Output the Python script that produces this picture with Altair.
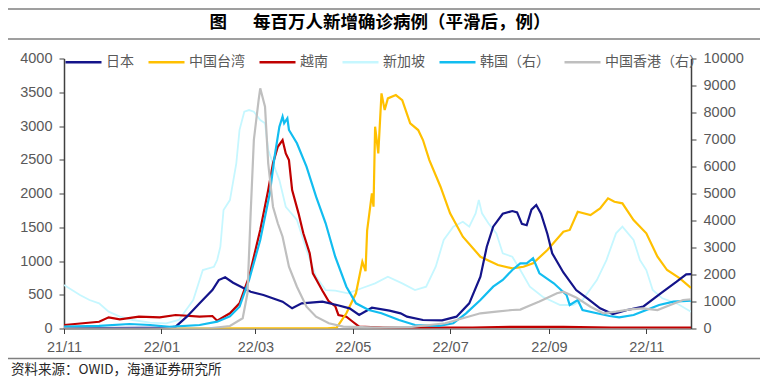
import altair as alt
import pandas as pd

TITLE = "图\u3000\u2002每百万人新增确诊病例（平滑后，例）"
SOURCE = "资料来源：OWID，海通证券研究所"
SERIES = ["日本", "中国台湾", "越南", "新加坡", "韩国（右）", "中国香港（右）"]
COLORS = ["#14148a", "#ffc000", "#c00000", "#c6f7ff", "#12bdf0", "#bfbfbf"]

x_ticks = ["2021-11-01", "2022-01-01", "2022-03-01", "2022-05-01", "2022-07-01", "2022-09-01", "2022-11-01"]
x_domain = ["2021-11-01", "2022-11-29"]
left_ticks = [0, 500, 1000, 1500, 2000, 2500, 3000, 3500, 4000]
right_ticks = [0, 1000, 2000, 3000, 4000, 5000, 6000, 7000, 8000, 9000, 10000]

jp_dates = ["2021-11-01", "2021-11-23", "2021-12-18", "2022-01-06", "2022-01-10", "2022-01-17", "2022-01-25",
            "2022-02-02", "2022-02-06", "2022-02-10", "2022-02-15", "2022-02-26", "2022-03-06", "2022-03-18",
            "2022-03-24", "2022-03-30", "2022-04-12", "2022-04-21", "2022-04-29", "2022-05-05", "2022-05-13",
            "2022-05-24", "2022-05-31", "2022-06-04", "2022-06-14", "2022-06-26", "2022-07-05", "2022-07-13",
            "2022-07-20", "2022-07-24", "2022-07-28", "2022-08-03", "2022-08-09", "2022-08-12", "2022-08-15",
            "2022-08-18", "2022-08-21", "2022-08-24", "2022-08-27", "2022-08-31", "2022-09-03", "2022-09-10",
            "2022-09-18", "2022-09-25", "2022-10-03", "2022-10-11", "2022-10-20", "2022-10-30", "2022-11-10",
            "2022-11-20", "2022-11-26", "2022-11-29"]
jp_vals = [5, 5, 8, 15, 27, 175, 373, 570, 718, 758, 678, 545, 496, 397, 299, 373, 397, 348, 299, 200, 308,
           265, 225, 175, 126, 120, 175, 373, 767, 1211, 1508, 1700, 1740, 1720, 1550, 1530, 1760, 1830, 1700,
           1400, 1114, 830, 570, 447, 299, 215, 274, 323, 521, 693, 803, 805]

tw_dates = ["2021-11-01", "2022-04-15", "2022-04-21", "2022-04-27", "2022-05-03", "2022-05-07", "2022-05-09",
            "2022-05-10", "2022-05-13", "2022-05-14", "2022-05-15", "2022-05-17", "2022-05-19", "2022-05-21",
            "2022-05-23", "2022-05-28", "2022-06-01", "2022-06-06", "2022-06-11", "2022-06-14", "2022-06-18",
            "2022-06-25", "2022-07-01", "2022-07-09", "2022-07-20", "2022-07-31", "2022-08-09", "2022-08-16",
            "2022-08-22", "2022-08-31", "2022-09-10", "2022-09-14", "2022-09-19", "2022-09-27", "2022-10-03",
            "2022-10-08", "2022-10-12", "2022-10-17", "2022-10-24", "2022-11-01", "2022-11-08", "2022-11-14",
            "2022-11-22", "2022-11-29"]
tw_vals = [0, 2, 15, 225, 521, 990, 850, 1450, 2002, 1804, 2989, 2594, 3483, 3236, 3409, 3458, 3384, 3039,
           2940, 2792, 2495, 2100, 1706, 1360, 1063, 940, 892, 915, 966, 1163, 1434, 1460, 1730, 1681, 1780,
           1928, 1878, 1854, 1607, 1410, 1063, 866, 743, 600]

vn_dates = ["2021-11-01", "2021-11-23", "2021-11-29", "2021-12-06", "2021-12-18", "2021-12-31", "2022-01-10",
            "2022-01-25", "2022-02-02", "2022-02-05", "2022-02-13", "2022-02-19", "2022-02-25", "2022-03-04",
            "2022-03-09", "2022-03-12", "2022-03-15", "2022-03-18", "2022-03-20", "2022-03-22", "2022-03-24",
            "2022-03-28", "2022-03-31", "2022-04-04", "2022-04-06", "2022-04-12", "2022-04-16", "2022-04-20",
            "2022-04-22", "2022-04-27", "2022-05-01", "2022-05-05", "2022-05-20", "2022-06-15", "2022-07-15",
            "2022-08-10", "2022-09-10", "2022-10-10", "2022-11-29"]
vn_vals = [52, 100, 166, 136, 175, 166, 200, 175, 185, 115, 225, 373, 767, 1459, 2051, 2447, 2692, 2792,
           2594, 2495, 2051, 1706, 1410, 1114, 817, 560, 400, 330, 200, 175, 100, 27, 15, 12, 15, 25, 25, 15, 12]

sg_dates = ["2021-11-01", "2021-11-11", "2021-11-17", "2021-11-23", "2021-11-29", "2021-12-06", "2021-12-14",
            "2021-12-25", "2022-01-04", "2022-01-12", "2022-01-21", "2022-01-27", "2022-02-03", "2022-02-05",
            "2022-02-07", "2022-02-09", "2022-02-13", "2022-02-17", "2022-02-19", "2022-02-22", "2022-02-25",
            "2022-02-28", "2022-03-04", "2022-03-07", "2022-03-09", "2022-03-12", "2022-03-16", "2022-03-20",
            "2022-03-27", "2022-04-02", "2022-04-08", "2022-04-14", "2022-04-20", "2022-04-28", "2022-05-07",
            "2022-05-15", "2022-05-23", "2022-06-01", "2022-06-09", "2022-06-16", "2022-06-22", "2022-06-27",
            "2022-07-03", "2022-07-09", "2022-07-13", "2022-07-17", "2022-07-19", "2022-07-21", "2022-07-25",
            "2022-07-30", "2022-08-03", "2022-08-09", "2022-08-14", "2022-08-20", "2022-08-28", "2022-09-08",
            "2022-09-16", "2022-09-22", "2022-10-01", "2022-10-07", "2022-10-13", "2022-10-17", "2022-10-24",
            "2022-10-28", "2022-11-01", "2022-11-05", "2022-11-11", "2022-11-20", "2022-11-29"]
sg_vals = [644, 496, 422, 373, 249, 175, 126, 86, 77, 126,
           422, 866, 915, 1014, 1211, 1755, 1903, 2447, 2940, 3211,
           3236, 3211, 3088, 3039, 2644, 2447, 2199, 1804, 1607, 1163,
           767, 570, 560, 521, 600, 669, 767, 669, 570, 619,
           915, 1311, 1508, 1582, 1508, 1706, 1903, 1706, 1558, 1410,
           1114, 1063, 866, 619, 471, 348, 348, 422, 718, 1014,
           1410, 1508, 1311, 1014, 866, 570, 447, 373, 249]

kr_dates = ["2021-11-01", "2021-11-23", "2021-12-12", "2021-12-25", "2022-01-06", "2022-01-25", "2022-02-05",
            "2022-02-13", "2022-02-19", "2022-02-25", "2022-03-04", "2022-03-10", "2022-03-13", "2022-03-16",
            "2022-03-18", "2022-03-19", "2022-03-21", "2022-03-22", "2022-03-27", "2022-04-02", "2022-04-08",
            "2022-04-14", "2022-04-20", "2022-04-27", "2022-05-03", "2022-05-11", "2022-05-19", "2022-05-30",
            "2022-06-09", "2022-06-24", "2022-07-03", "2022-07-11", "2022-07-20", "2022-07-28", "2022-08-03",
            "2022-08-09", "2022-08-14", "2022-08-18", "2022-08-22", "2022-08-26", "2022-09-04", "2022-09-12",
            "2022-09-14", "2022-09-19", "2022-09-22", "2022-10-01", "2022-10-09", "2022-10-15", "2022-10-24",
            "2022-11-01", "2022-11-09", "2022-11-18", "2022-11-29"]
kr_vals = [67, 100, 167, 130, 60, 130, 252, 450, 807, 1796,
           3278, 5008, 6363, 7475, 7845, 7600, 7786, 7352, 6860, 5993,
           4882, 3897, 2659, 1548, 933, 685, 563, 315, 130, 93,
           193, 563, 1056, 1548, 1796, 2167, 2415, 2415, 2600, 2045,
           1674, 1241, 870, 1056, 685, 563, 463, 415, 500, 685,
           870, 993, 1030]

hk_dates = ["2021-11-01", "2022-01-31", "2022-02-13", "2022-02-21", "2022-02-24", "2022-02-26", "2022-02-28",
            "2022-03-03", "2022-03-04", "2022-03-07", "2022-03-09", "2022-03-12", "2022-03-15", "2022-03-18",
            "2022-03-22", "2022-03-27", "2022-04-02", "2022-04-08", "2022-04-16", "2022-04-25", "2022-05-18",
            "2022-06-07", "2022-06-18", "2022-06-28", "2022-07-09", "2022-07-20", "2022-07-30", "2022-08-09",
            "2022-08-14", "2022-08-20", "2022-08-26", "2022-09-06", "2022-09-10", "2022-09-18", "2022-09-27",
            "2022-10-05", "2022-10-13", "2022-10-22", "2022-10-30", "2022-11-08", "2022-11-16", "2022-11-24",
            "2022-11-29"]
hk_vals = [0, 5, 93, 378, 1304, 4267, 6982, 8464, 8897, 8216,
           6119, 4511, 3897, 3400, 2289, 1548, 807, 437, 193, 67,
           30, 60, 130, 193, 378, 563, 622, 685, 700, 850,
           1000, 1304, 1363, 1150, 807, 563, 622, 711, 748, 685,
           870, 1056, 1080]

LABEL_FONT = "Liberation Sans"
CJK_FONT = "Noto Sans CJK SC"
AX_COLOR = "#404040"
LBL_COLOR = "#595959"


def dt(s):
    y, m, d = (int(p) for p in s.split("-"))
    return alt.DateTime(year=y, month=m, date=d, utc=True)


x_enc = alt.X(
    "date:T",
    scale=alt.Scale(type="utc", domain=[dt(s) for s in x_domain], nice=False),
    axis=alt.Axis(values=[dt(s) for s in x_ticks], format="%y/%m", title=None, grid=False,
                  labelFont=LABEL_FONT, labelFontSize=14.5, labelColor=LBL_COLOR, labelPadding=7,
                  tickColor=AX_COLOR, tickSize=5, domainColor=AX_COLOR, domainWidth=1, labelFlush=False),
)

color_enc = alt.Color(
    "series:N",
    scale=alt.Scale(domain=SERIES, range=COLORS),
    legend=alt.Legend(orient="none", legendX=0, legendY=-16, direction="horizontal", columns=6,
                      title=None, symbolType="stroke", symbolSize=1296, symbolStrokeWidth=2.5,
                      labelFont=CJK_FONT, labelFontSize=14, labelColor=LBL_COLOR, labelOffset=3,
                      columnPadding=9, padding=0, rowPadding=0),
)


def y_enc(ticks, orient):
    return alt.Y(
        "value:Q",
        scale=alt.Scale(domain=[ticks[0], ticks[-1]], nice=False, zero=True),
        axis=alt.Axis(values=ticks, format="d", orient=orient, title=None, grid=False,
                      labelFont=LABEL_FONT, labelFontSize=14.5, labelColor=LBL_COLOR, labelPadding=7,
                      tickColor=AX_COLOR, tickSize=5, domainColor=AX_COLOR, domainWidth=1.5),
    )


def series_line(dates, vals, name, ticks, orient, width=2.2):
    df = pd.DataFrame({"date": dates, "value": vals, "series": name})
    return alt.Chart(df).mark_line(strokeWidth=width, clip=True).encode(
        x=x_enc, y=y_enc(ticks, orient), color=color_enc
    )


left = alt.layer(
    series_line(sg_dates, sg_vals, SERIES[3], left_ticks, "left", 1.8),
    series_line(vn_dates, vn_vals, SERIES[2], left_ticks, "left"),
    series_line(tw_dates, tw_vals, SERIES[1], left_ticks, "left"),
    series_line(jp_dates, jp_vals, SERIES[0], left_ticks, "left"),
)
right = alt.layer(
    series_line(kr_dates, kr_vals, SERIES[4], right_ticks, "right"),
    series_line(hk_dates, hk_vals, SERIES[5], right_ticks, "right"),
)

one = pd.DataFrame({"k": [0]})
rule_top = alt.Chart(one).mark_rule(color="#7f7f7f", strokeWidth=1.5).encode(
    x=alt.value(-56), x2=alt.value(696), y=alt.value(-49.5))
rule_mid = alt.Chart(one).mark_rule(color="#7f7f7f", strokeWidth=1.5).encode(
    x=alt.value(-56), x2=alt.value(696), y=alt.value(-19.5))
rule_bot = alt.Chart(one).mark_rule(color="#7f7f7f", strokeWidth=1.5).encode(
    x=alt.value(-56), x2=alt.value(696), y=alt.value(300))
title = alt.Chart(pd.DataFrame({"t": [TITLE]})).mark_text(
    font=CJK_FONT, fontSize=17.5, fontWeight="bold", color="#000000", align="center", baseline="middle"
).encode(text="t:N", x=alt.value(316), y=alt.value(-36))
source = alt.Chart(pd.DataFrame({"t": [SOURCE]})).mark_text(
    font=CJK_FONT, fontSize=13.5, color="#262626", align="left", baseline="middle"
).encode(text="t:N", x=alt.value(-53), y=alt.value(311))

chart = alt.layer(left, right, rule_top, rule_mid, rule_bot, title, source).resolve_scale(
    y="independent"
).properties(
    width=627, height=270, autosize="none",
    padding={"left": 56, "top": 50.5, "right": 69, "bottom": 49.5},
    background="white",
).configure_view(stroke=None)

chart.save("out.html", embed_options={"renderer": "svg", "actions": False})
